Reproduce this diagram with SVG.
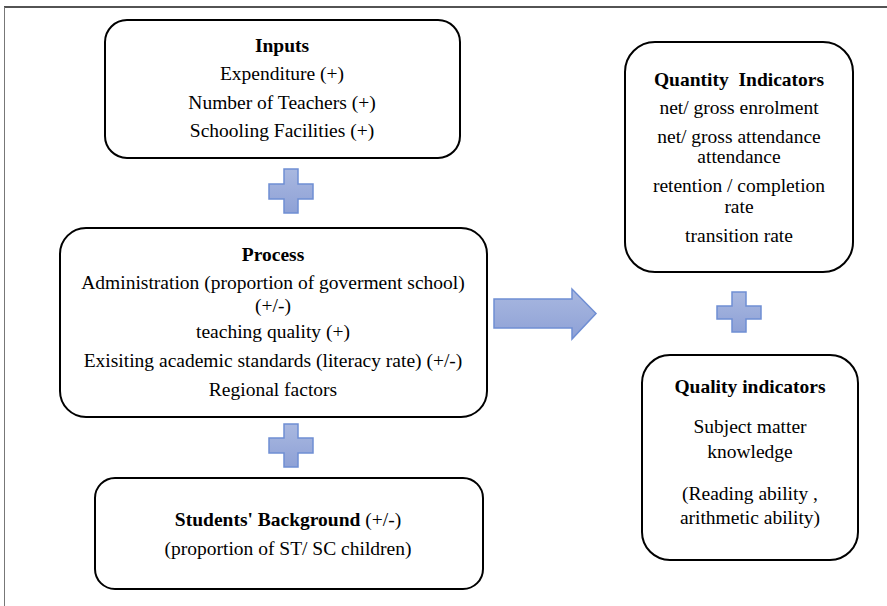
<svg xmlns="http://www.w3.org/2000/svg" width="887" height="606" viewBox="0 0 887 606">
<defs>
<style>
.box{fill:#fff;stroke:#000;stroke-width:2}
.t{font-family:"Liberation Serif","Times New Roman",serif;font-size:19.5px;fill:#000;text-anchor:middle}
.b{font-weight:bold}
.sym{fill:url(#g);stroke:#6f8ed3;stroke-width:1.5}
</style>
<linearGradient id="g" x1="0" y1="0" x2="0" y2="1">
<stop offset="0" stop-color="#a9b8e0"/>
<stop offset="1" stop-color="#8ea1d6"/>
</linearGradient>
</defs>
<rect width="887" height="606" fill="#fff"/>
<line x1="4" y1="7" x2="887" y2="7" stroke="#1a1a1a" stroke-width="1.5"/>
<line x1="4.5" y1="7" x2="4.5" y2="606" stroke="#777" stroke-width="1"/>

<g id="inputs">
<rect class="box" x="105" y="20" width="355" height="138" rx="22"/>
<text class="t b" x="282" y="52">Inputs</text>
<text class="t" x="282" y="80">Expenditure (+)</text>
<text class="t" x="282" y="109">Number of Teachers (+)</text>
<text class="t" x="282" y="137">Schooling Facilities (+)</text>
</g>

<g id="process">
<rect class="box" x="60" y="228" width="427" height="189" rx="26"/>
<text class="t b" x="273" y="261">Process</text>
<text class="t" x="273" y="289">Administration (proportion of goverment school)</text>
<text class="t" x="273" y="312">(+/-)</text>
<text class="t" x="273" y="338">teaching quality (+)</text>
<text class="t" x="273" y="367">Exisiting academic standards (literacy rate) (+/-)</text>
<text class="t" x="273" y="396">Regional factors</text>
</g>

<g id="background">
<rect class="box" x="95" y="478" width="388" height="111" rx="20"/>
<text class="t" x="288" y="526"><tspan class="b">Students' Background</tspan> (+/-)</text>
<text class="t" x="288" y="555">(proportion of ST/ SC children)</text>
</g>

<g id="quantity">
<rect class="box" x="625" y="42" width="228" height="230" rx="30"/>
<text class="t b" x="739" y="86" xml:space="preserve">Quantity  Indicators</text>
<text class="t" x="739" y="114">net/ gross enrolment</text>
<text class="t" x="739" y="143">net/ gross attendance</text>
<text class="t" x="739" y="163">attendance</text>
<text class="t" x="739" y="192">retention / completion</text>
<text class="t" x="739" y="213">rate</text>
<text class="t" x="739" y="242">transition rate</text>
</g>

<g id="quality">
<rect class="box" x="642" y="355" width="216" height="205" rx="28"/>
<text class="t b" x="750" y="393">Quality indicators</text>
<text class="t" x="750" y="433">Subject matter</text>
<text class="t" x="750" y="458">knowledge</text>
<text class="t" x="750" y="500">(Reading ability ,</text>
<text class="t" x="750" y="524">arithmetic ability)</text>
</g>

<g id="connectors">
<path class="sym" d="M284,169 H298 V184 H313 V199 H298 V213 H284 V199 H269 V184 H284 Z"/>
<path class="sym" d="M284,424 H298 V438 H313 V453 H298 V467 H284 V453 H269 V438 H284 Z"/>
<path class="sym" d="M732,292 H746 V306 H761 V319 H746 V332 H732 V319 H717 V306 H732 Z"/>
<path class="sym" d="M494,299 H572 V289 L596,313.5 L572,339 V328 H494 Z"/>
</g>
</svg>
